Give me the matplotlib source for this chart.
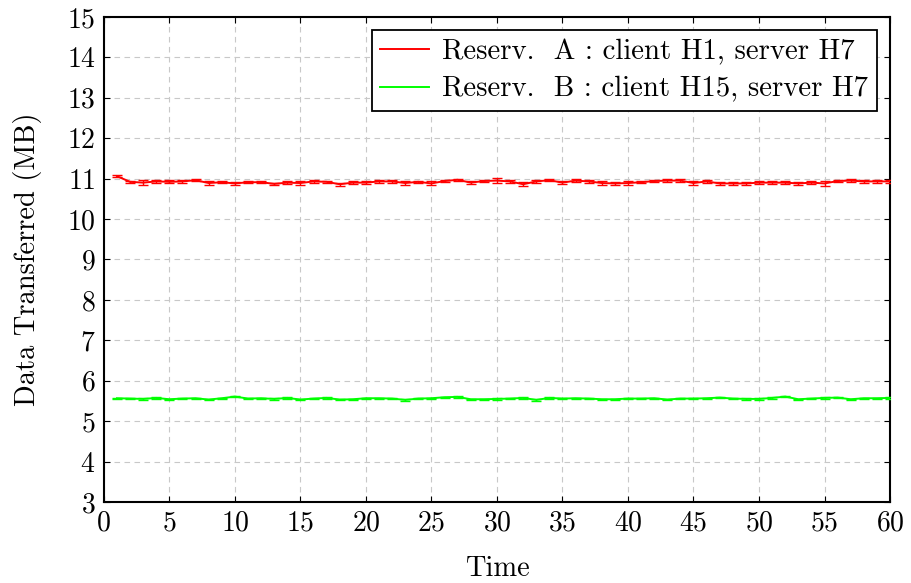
"""Data transferred per time step for two reservations, with error bars."""
import numpy as np
import matplotlib

matplotlib.use("Agg")
import matplotlib.pyplot as plt
from matplotlib.lines import Line2D

time = list(range(1, 61))

# Reservation A: client H1 -> server H7
resv_a = [
    11.06, 10.92, 10.90, 10.93, 10.92, 10.93, 10.96, 10.89, 10.91, 10.88,
    10.91, 10.91, 10.87, 10.90, 10.89, 10.93, 10.92, 10.86, 10.90, 10.90,
    10.93, 10.93, 10.89, 10.92, 10.88, 10.94, 10.97, 10.90, 10.94, 10.95,
    10.93, 10.86, 10.93, 10.96, 10.90, 10.95, 10.93, 10.89, 10.88, 10.89,
    10.91, 10.94, 10.95, 10.95, 10.89, 10.93, 10.88, 10.88, 10.88, 10.90,
    10.90, 10.90, 10.88, 10.90, 10.88, 10.94, 10.95, 10.93, 10.93, 10.93,
]
resv_a_err = [
    0.02, 0.03, 0.06, 0.03, 0.04, 0.04, 0.03, 0.04, 0.03, 0.04,
    0.03, 0.03, 0.03, 0.03, 0.05, 0.03, 0.03, 0.04, 0.03, 0.03,
    0.03, 0.03, 0.04, 0.03, 0.05, 0.03, 0.03, 0.04, 0.03, 0.06,
    0.03, 0.05, 0.04, 0.03, 0.03, 0.03, 0.03, 0.04, 0.04, 0.04,
    0.03, 0.03, 0.03, 0.04, 0.04, 0.03, 0.04, 0.04, 0.04, 0.03,
    0.03, 0.03, 0.03, 0.03, 0.06, 0.03, 0.03, 0.03, 0.03, 0.03,
]

# Reservation B: client H15 -> server H7
resv_b = [
    5.566, 5.558, 5.549, 5.574, 5.541, 5.558, 5.566, 5.533, 5.566, 5.607,
    5.558, 5.566, 5.549, 5.574, 5.533, 5.558, 5.574, 5.533, 5.541, 5.566,
    5.566, 5.558, 5.525, 5.558, 5.566, 5.591, 5.599, 5.541, 5.541, 5.549,
    5.558, 5.574, 5.525, 5.574, 5.558, 5.566, 5.558, 5.541, 5.541, 5.558,
    5.558, 5.566, 5.533, 5.558, 5.558, 5.566, 5.582, 5.558, 5.549, 5.549,
    5.574, 5.607, 5.541, 5.558, 5.574, 5.582, 5.541, 5.566, 5.566, 5.574,
]
resv_b_err = [0.015] * 60

labels = [
    "Reserv.  A : client H1, server H7",
    "Reserv.  B : client H15, server H7",
]
colors = ["#ff0000", "#00ff00"]

plt.rcParams["font.family"] = "serif"
plt.rcParams["font.serif"] = ["cmr10", "DejaVu Serif"]
plt.rcParams["mathtext.fontset"] = "cm"
plt.rcParams["axes.formatter.use_mathtext"] = True

fig = plt.figure(figsize=(9.11, 5.83), dpi=100)
ax = fig.add_axes([0.114, 0.139, 0.863, 0.832])

ax.errorbar(time, resv_a, yerr=resv_a_err, color=colors[0], linewidth=1.4,
            elinewidth=1.0, capsize=3.5, capthick=1.0, zorder=3)
ax.errorbar(time, resv_b, yerr=resv_b_err, color=colors[1], linewidth=1.4,
            elinewidth=1.0, capsize=3.5, capthick=1.0, zorder=3)

ax.set_xlim(0, 60)
ax.set_ylim(3, 15)
ax.set_xticks(np.arange(0, 61, 5))
ax.set_yticks(np.arange(3, 16, 1))
ax.grid(True, color="#c8c8c8", linestyle=(0, (5, 4)), linewidth=0.8, zorder=0)
ax.set_axisbelow(True)
ax.tick_params(direction="in", top=True, right=True, length=4, width=0.8,
               labelsize=20, pad=6)
for spine in ax.spines.values():
    spine.set_linewidth(1.5)

ax.set_xlabel("Time", fontsize=20.5, labelpad=14)
ax.set_ylabel("Data Transferred (MB)", fontsize=20.5, labelpad=18)

handles = [Line2D([], [], color=c, linewidth=1.4) for c in colors]
leg = ax.legend(handles, labels, loc="upper right", fontsize=20.8, frameon=True,
                fancybox=False, handlelength=1.7, handletextpad=0.45,
                borderpad=0.3, labelspacing=0.4, borderaxespad=0.45)
leg.get_frame().set_edgecolor("black")
leg.get_frame().set_linewidth(1.3)
leg.get_frame().set_alpha(1.0)

fig.savefig("out.png", dpi=100)
